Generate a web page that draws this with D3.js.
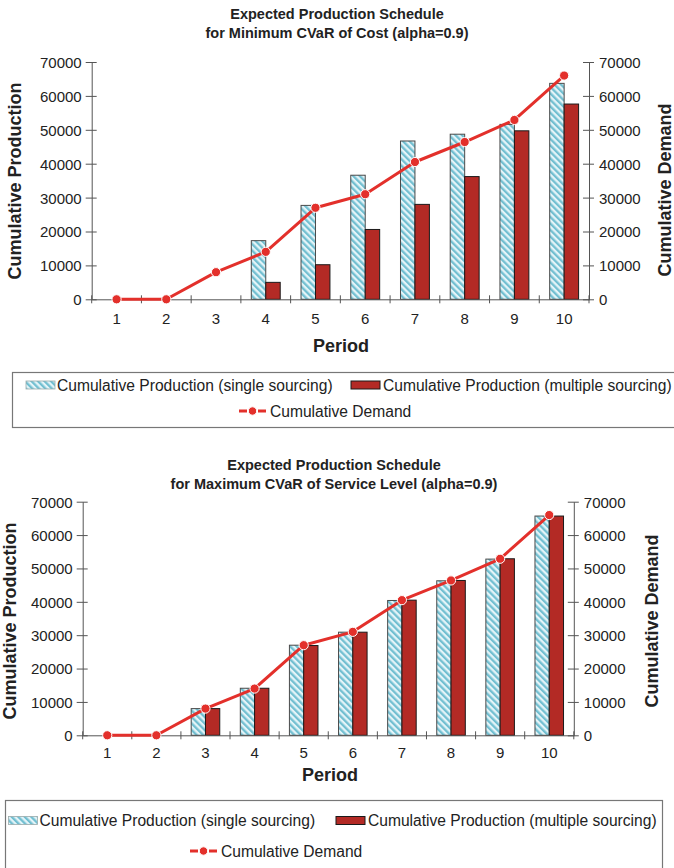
<!DOCTYPE html>
<html><head><meta charset="utf-8">
<script src="https://cdn.jsdelivr.net/npm/d3@7"></script>
<style>
html,body{margin:0;padding:0;background:#fff;}
svg{display:block;font-family:"Liberation Sans",Arial,Helvetica,sans-serif;}
</style></head>
<body>
<svg id="c" width="674" height="868"></svg>
<script>
// ---------- DATA ----------
const periods = ["1","2","3","4","5","6","7","8","9","10"];
const yTickValues = [0,10000,20000,30000,40000,50000,60000,70000];

// Chart 1: Minimum CVaR of Cost
const costSingle   = [0,0,0,17300,27700,36600,46700,48700,51600,63700];
const costMultiple = [0,0,0,5000,10200,20600,28000,36200,49700,57600];
const costDemand   = [0,0,8000,14000,27000,31000,40500,46400,52900,66000];

// Chart 2: Maximum CVaR of Service Level
const svcSingle    = [0,0,8000,14100,27000,30900,40400,46300,52800,65700];
const svcMultiple  = [0,0,8000,14100,26900,30900,40500,46400,52900,65700];
const svcDemand    = [0,0,8000,14000,27000,31000,40500,46400,52900,66000];

const seriesNames = ["Cumulative Production (single sourcing)","Cumulative Production (multiple sourcing)","Cumulative Demand"];

// ---------- STYLE ----------
const FONT = '"Liberation Sans",Arial,Helvetica,sans-serif';
const RED_BAR = "#b32a25";
const RED_LINE = "#e3302b";
const AXIS = "#555";

const svg = d3.select("#c");
const defs = svg.append("defs");
const pat = defs.append("pattern").attr("id","hatch")
  .attr("patternUnits","userSpaceOnUse").attr("width",4.6).attr("height",4.6)
  .attr("patternTransform","rotate(-45)");
pat.append("rect").attr("width",4.6).attr("height",4.6).attr("fill","#e4f4f8");
pat.append("rect").attr("x",0).attr("width",2.3).attr("height",4.6).attr("fill","#72bfd1");

function drawChart(o){
  const g = svg.append("g");
  const x = d3.scaleBand().domain(periods).range([o.x0,o.x1]);
  const y = d3.scaleLinear().domain([0,70000]).range([o.y1,o.y0]);
  const xs = d3.scaleBand().domain(["s","m"]).range([0,x.bandwidth()]).paddingInner(0).paddingOuter(0.72);

  // bars
  const rows = periods.map((p,i)=>({p, s:o.single[i], m:o.multiple[i], d:o.demand[i]}));
  g.selectAll(".bs").data(rows.filter(r=>r.s>0)).join("rect")
    .attr("x",r=>x(r.p)+xs("s")).attr("width",xs.bandwidth())
    .attr("y",r=>y(r.s)).attr("height",r=>o.y1-y(r.s))
    .attr("fill","url(#hatch)").attr("stroke","#4a4a4a").attr("stroke-width",1);
  g.selectAll(".bm").data(rows.filter(r=>r.m>0)).join("rect")
    .attr("x",r=>x(r.p)+xs("m")).attr("width",xs.bandwidth())
    .attr("y",r=>y(r.m)).attr("height",r=>o.y1-y(r.m))
    .attr("fill",RED_BAR).attr("stroke","#1a1a1a").attr("stroke-width",1);

  // left axis
  const la = g.append("g").attr("transform",`translate(${o.x0},0)`)
    .call(d3.axisLeft(y).tickValues(yTickValues).tickFormat(d3.format("d")).tickSize(6).tickSizeOuter(0).tickPadding(4));
  la.selectAll(".tick line").attr("x1",5).attr("stroke",AXIS);
  la.select(".domain").attr("stroke",AXIS);
  la.selectAll("text").attr("font-size",15).attr("font-family",FONT).attr("fill","#222").attr("dy","0.36em");
  la.attr("font-family",null).attr("font-size",null);

  // right axis
  const ra = g.append("g").attr("transform",`translate(${o.x1},0)`)
    .call(d3.axisRight(y).tickValues(yTickValues).tickFormat(d3.format("d")).tickSize(5).tickSizeOuter(0).tickPadding(5));
  ra.selectAll(".tick line").attr("x1",-6).attr("stroke",AXIS);
  ra.select(".domain").attr("stroke",AXIS);
  ra.selectAll("text").attr("font-size",15).attr("font-family",FONT).attr("fill","#222").attr("dy","0.36em");
  ra.attr("font-family",null).attr("font-size",null);

  // bottom axis
  const ba = g.append("g").attr("transform",`translate(0,${o.y1})`)
    .call(d3.axisBottom(x).tickSize(0).tickSizeOuter(0));
  ba.select(".domain").attr("stroke",AXIS);
  ba.selectAll("text").attr("font-size",15).attr("font-family",FONT).attr("fill","#222")
    .attr("y",o.xlabOff).attr("dy","0.36em");
  ba.attr("font-family",null).attr("font-size",null);
  const bounds = d3.range(periods.length+1).map(i=>o.x0+i*x.step());
  g.selectAll(".bt").data(bounds).join("line")
    .attr("x1",d=>d).attr("x2",d=>d).attr("y1",o.y1-4).attr("y2",o.y1+4)
    .attr("stroke",AXIS);

  // demand line
  const line = d3.line().x(r=>x(r.p)+x.bandwidth()/2).y(r=>y(r.d));
  g.append("path").datum(rows).attr("d",line).attr("fill","none")
    .attr("stroke",RED_LINE).attr("stroke-width",3).attr("stroke-linejoin","round");
  g.selectAll(".pt").data(rows).join("circle")
    .attr("cx",r=>x(r.p)+x.bandwidth()/2).attr("cy",r=>y(r.d)).attr("r",4.6)
    .attr("fill",RED_LINE).attr("stroke","#fff").attr("stroke-width",1);

  // titles
  const t = g.append("text").attr("text-anchor","middle").attr("font-family",FONT)
    .attr("font-weight","bold").attr("font-size",14.5).attr("fill","#222");
  t.append("tspan").attr("x",o.tx).attr("y",o.ty1).attr("dy","0.36em").text(o.title1);
  t.append("tspan").attr("x",o.tx).attr("y",o.ty2).attr("dy","0.36em").text(o.title2);

  g.append("text").attr("x",o.px).attr("y",o.py).attr("dy","0.36em").attr("text-anchor","middle")
    .attr("font-family",FONT).attr("font-weight","bold").attr("font-size",18).attr("fill","#222").text("Period");
  g.append("text").attr("transform",`translate(${o.lx},${o.ly}) rotate(-90)`).attr("dy","0.36em")
    .attr("text-anchor","middle").attr("font-family",FONT).attr("font-weight","bold").attr("font-size",18)
    .attr("fill","#222").text("Cumulative Production");
  g.append("text").attr("transform",`translate(${o.rx},${o.ry}) rotate(-90)`).attr("dy","0.36em")
    .attr("text-anchor","middle").attr("font-family",FONT).attr("font-weight","bold").attr("font-size",18)
    .attr("fill","#222").text("Cumulative Demand");

  // legend
  const L = o.leg;
  const lg = svg.append("g");
  lg.append("rect").attr("x",L.bx).attr("y",L.by).attr("width",L.bw).attr("height",L.bh)
    .attr("fill","none").attr("stroke","#777").attr("stroke-width",1.2);
  lg.append("rect").attr("x",L.s1).attr("y",L.r1-4).attr("width",29).attr("height",8)
    .attr("fill","url(#hatch)").attr("stroke","#9aa").attr("stroke-width",0.8);
  lg.append("text").attr("x",L.s1+31).attr("y",L.r1).attr("dy","0.36em").attr("font-family",FONT)
    .attr("font-size",15.6).attr("fill","#222").text(seriesNames[0]);
  lg.append("rect").attr("x",L.s2).attr("y",L.r1-4).attr("width",29).attr("height",8)
    .attr("fill",RED_BAR).attr("stroke","#1a1a1a").attr("stroke-width",1);
  lg.append("text").attr("x",L.s2+32).attr("y",L.r1).attr("dy","0.36em").attr("font-family",FONT)
    .attr("font-size",15.6).attr("fill","#222").text(seriesNames[1]);
  lg.append("line").attr("x1",L.s3).attr("x2",L.s3+27).attr("y1",L.r2).attr("y2",L.r2)
    .attr("stroke",RED_LINE).attr("stroke-width",3).attr("stroke-dasharray","8,3.5,4,3.5,8");
  lg.append("circle").attr("cx",L.s3+13.5).attr("cy",L.r2).attr("r",4.2).attr("fill",RED_LINE)
    .attr("stroke","#fff").attr("stroke-width",1);
  lg.append("text").attr("x",L.s3+31).attr("y",L.r2).attr("dy","0.36em").attr("font-family",FONT)
    .attr("font-size",15.6).attr("fill","#222").text(seriesNames[2]);
}

drawChart({
  x0:91.7, x1:589, y0:62, y1:299.3,
  single:costSingle, multiple:costMultiple, demand:costDemand,
  title1:"Expected Production Schedule", title2:"for Minimum CVaR of Cost (alpha=0.9)",
  tx:337, ty1:14, ty2:33, xlabOff:19, px:341, py:346,
  lx:15, ly:181, rx:665, ry:190,
  leg:{bx:12.5, by:372.5, bw:680, bh:55, s1:26, s2:351, s3:239, r1:385, r2:411}
});
drawChart({
  x0:82.7, x1:573.8, y0:501.7, y1:735.3,
  single:svcSingle, multiple:svcMultiple, demand:svcDemand,
  title1:"Expected Production Schedule", title2:"for Maximum CVaR of Service Level (alpha=0.9)",
  tx:334, ty1:465, ty2:484, xlabOff:17, px:330, py:775,
  lx:10, ly:621, rx:652, ry:621,
  leg:{bx:5.5, by:800.5, bw:657, bh:90, s1:8.5, s2:336, s3:190, r1:820.5, r2:851}
});
</script>
</body></html>
